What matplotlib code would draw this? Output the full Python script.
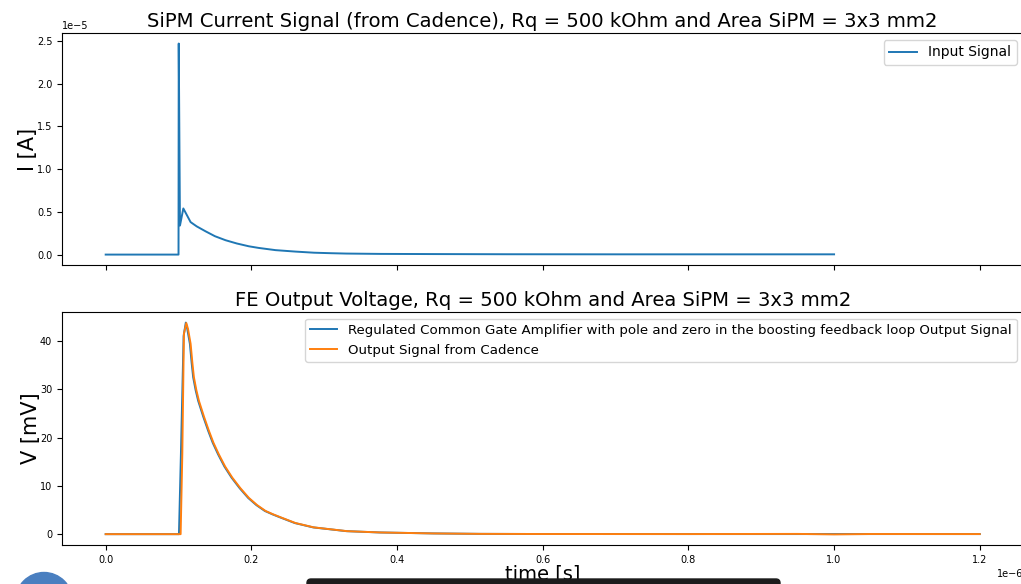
import numpy as np
import matplotlib.pyplot as plt
from matplotlib.patches import Circle, FancyBboxPatch

# values
# top panel: SiPM input current, time in us, current in 1e-5 A
t_in = [0.0, 0.1000, 0.1003, 0.1020, 0.1066, 0.1166, 0.125, 0.137, 0.150,
        0.1646, 0.180, 0.1966, 0.210, 0.2332, 0.2606, 0.286, 0.310, 0.330,
        0.377, 0.450, 0.550, 0.700, 0.850, 1.000]
i_in = [0.0, 0.0, 2.47, 0.34, 0.54, 0.38, 0.33, 0.273, 0.215,
        0.168, 0.130, 0.097, 0.078, 0.052, 0.035, 0.022, 0.016, 0.012,
        0.008, 0.006, 0.004, 0.003, 0.003, 0.003]

# bottom panel: output voltage, time in us, voltage in mV
t_rcg = [0.0, 0.1006, 0.1033, 0.1070, 0.1100, 0.1120, 0.1156, 0.1180, 0.1201,
         0.1235, 0.127, 0.134, 0.1407, 0.147, 0.1544, 0.163, 0.1728, 0.184,
         0.1956, 0.207, 0.2185, 0.229, 0.239, 0.2596, 0.2848, 0.3305, 0.376,
         0.450, 0.514, 0.600, 0.800, 1.000, 1.200]
v_rcg = [0.0, 0.0, 16.6, 41.0, 43.8, 42.5, 39.4, 35.5, 32.5,
         29.8, 27.6, 24.3, 21.4, 18.9, 16.5, 14.0, 11.7, 9.5,
         7.5, 6.0, 4.8, 4.1, 3.5, 2.3, 1.4, 0.62, 0.35,
         0.15, 0.06, 0.03, 0.02, 0.02, 0.02]

t_cad = [0.0, 0.1006, 0.1029, 0.1052, 0.1074, 0.1107, 0.1130, 0.1166, 0.1190,
         0.1211, 0.1245, 0.128, 0.135, 0.1417, 0.148, 0.1554, 0.164, 0.1738,
         0.185, 0.1966, 0.208, 0.2195, 0.230, 0.240, 0.2606, 0.2858, 0.3315,
         0.377, 0.450, 0.514, 0.600, 0.800, 0.950, 1.000, 1.050, 1.200]
v_cad = [0.0, 0.0, 0.0, 16.6, 41.5, 43.7, 42.5, 39.4, 35.5,
         32.5, 29.8, 27.6, 24.3, 21.4, 18.9, 16.5, 14.0, 11.7,
         9.5, 7.5, 6.0, 4.8, 4.1, 3.5, 2.3, 1.4, 0.62,
         0.35, 0.15, 0.06, 0.03, 0.02, 0.05, -0.05, 0.03, 0.02]

title_top = 'SiPM Current Signal (from Cadence), Rq = 500 kOhm and Area SiPM = 3x3 mm2'
title_bot = 'FE Output Voltage, Rq = 500 kOhm and Area SiPM = 3x3 mm2'


def main():
    fig = plt.figure(figsize=(10.21, 5.84), dpi=100)
    ax1 = fig.add_axes([0.0607, 0.546, 0.9417, 0.3975])
    ax2 = fig.add_axes([0.0607, 0.0668, 0.9417, 0.399], sharex=ax1)

    ax1.plot(np.array(t_in) * 1e-6, np.array(i_in) * 1e-5, lw=1.4,
             label='Input Signal')
    ax1.set_title(title_top, fontsize=14.15, pad=4)
    ax1.set_ylabel('I [A]', fontsize=15, labelpad=-1)
    ax1.legend(loc='upper right', fontsize=10)
    ax1.tick_params(labelbottom=False, labelsize=7)
    ax1.yaxis.get_offset_text().set_fontsize(7)

    ax2.plot(np.array(t_rcg) * 1e-6, v_rcg, lw=1.4,
             label='Regulated Common Gate Amplifier with pole and zero in the '
                   'boosting feedback loop Output Signal')
    ax2.plot(np.array(t_cad) * 1e-6, v_cad, lw=1.4,
             label='Output Signal from Cadence')
    ax2.set_title(title_bot, fontsize=14.15, pad=4)
    ax2.set_ylabel('V [mV]', fontsize=15, labelpad=-1)
    ax2.set_xlabel('time [s]', fontsize=14, labelpad=0)
    ax2.legend(loc='upper right', fontsize=9.6)
    ax2.tick_params(labelsize=7)
    ax2.xaxis.get_offset_text().set_fontsize(7)

    # screenshot overlays at the bottom edge (display pixels, origin bottom-left)
    fig.patches.append(Circle((44, -17), 28.5, transform=None,
                              color='#4a7fc0', zorder=5))
    fig.patches.append(FancyBboxPatch((307, -15), 473, 20,
                                      boxstyle='round,pad=0,rounding_size=4',
                                      transform=None, color='#1c1c1c', zorder=5))

    fig.savefig('out.png', dpi=100)


if __name__ == "__main__":
    main()
